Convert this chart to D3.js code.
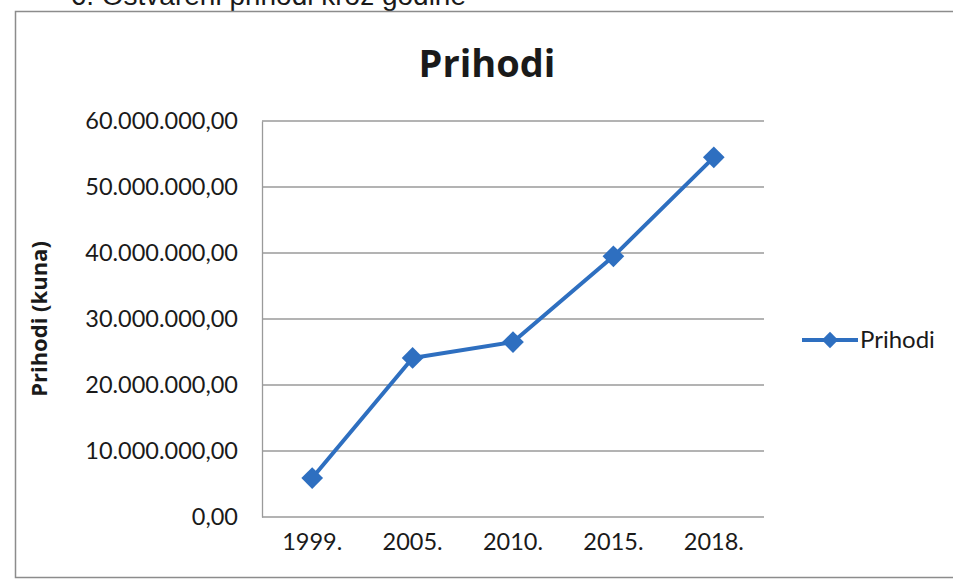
<!DOCTYPE html>
<html>
<head>
<meta charset="utf-8">
<script src="https://cdn.jsdelivr.net/npm/d3@7"></script>
<style>
	body { margin: 0; background: #fff; }
	svg { display: block; }
</style>
</head>
<body>
<script>
// data
const years = ["1999.", "2005.", "2010.", "2015.", "2018."];
const prihodi = [5900000, 24100000, 26500000, 39500000, 54500000];
const yTicks = [0, 10000000, 20000000, 30000000, 40000000, 50000000, 60000000];
const seriesName = "Prihodi";

const svgWidth = 953;
const svgHeight = 580;
const plot = { left: 262, right: 764, top: 121, bottom: 517 };
const blue = "#2e6fc0";
const labelFont = "Lato, sans-serif";
const titleFont = "'Open Sans', sans-serif";
const ink = "#1a1a1a";

const svg = d3.select("body")
	.append("svg")
	.attr("width", svgWidth)
	.attr("height", svgHeight);

// caption of the page, cut by the scan
svg.append("text")
	.attr("x", 466)
	.attr("y", 5)
	.attr("text-anchor", "end")
	.style("font-size", "28px")
	.style("font-family", "'Liberation Sans', sans-serif")
	.attr("fill", ink)
	.text("6. Ostvareni prihodi kroz godine");

// chart frame
svg.append("rect")
	.attr("x", 15.5)
	.attr("y", 11.5)
	.attr("width", 960)
	.attr("height", 566)
	.attr("fill", "none")
	.attr("stroke", "#8c8c8c")
	.attr("stroke-width", 1.5);

const x = d3.scaleBand()
	.domain(years)
	.range([plot.left, plot.right]);

const y = d3.scaleLinear()
	.domain([0, 60000000])
	.range([plot.bottom, plot.top]);

const fmt = (v) => d3.format(",.2f")(v).replace(/,/g, "#").replace(".", ",").replace(/#/g, ".");

// grid lines
svg.append("g")
	.selectAll("line")
	.data(yTicks)
	.join("line")
	.attr("x1", plot.left)
	.attr("x2", plot.right)
	.attr("y1", (d) => y(d))
	.attr("y2", (d) => y(d))
	.attr("stroke", "#9a9a9a")
	.attr("stroke-width", 1.3);

// y axis
const yAxis = svg.append("g")
	.attr("transform", `translate(${plot.left} 0)`)
	.call(d3.axisLeft(y).tickValues(yTicks).tickFormat(fmt).tickSize(0).tickPadding(24));
yAxis.select(".domain").attr("stroke", "#9a9a9a").attr("stroke-width", 1.3);
yAxis.selectAll("text")
	.style("font-size", "23.5px")
	.style("font-family", labelFont)
	.attr("fill", ink);

// x axis
const xAxis = svg.append("g")
	.attr("transform", `translate(0 ${plot.bottom})`)
	.call(d3.axisBottom(x).tickSize(0).tickPadding(16));
xAxis.select(".domain").remove();
xAxis.selectAll("text")
	.style("font-size", "23.5px")
	.style("font-family", labelFont)
	.attr("fill", ink);

// titles
svg.append("text")
	.attr("x", 487)
	.attr("y", 77)
	.attr("text-anchor", "middle")
	.style("font-size", "38px")
	.style("font-family", titleFont)
	.style("font-weight", "bold")
	.attr("fill", ink)
	.text("Prihodi");

svg.append("text")
	.attr("transform", `translate(47 ${(plot.top + plot.bottom) / 2}) rotate(-90)`)
	.attr("text-anchor", "middle")
	.style("font-size", "22px")
	.style("font-family", titleFont)
	.style("font-weight", "bold")
	.attr("fill", ink)
	.text("Prihodi (kuna)");

// line + markers
const points = years.map((yr, i) => ({ year: yr, value: prihodi[i] }));
const cx = (d) => x(d.year) + x.bandwidth() / 2;

svg.append("path")
	.datum(points)
	.attr("fill", "none")
	.attr("stroke", blue)
	.attr("stroke-width", 4)
	.attr("stroke-linejoin", "round")
	.attr("d", d3.line().x(cx).y((d) => y(d.value)));

const diamond = d3.symbol().type(d3.symbolDiamond2).size(300);
svg.append("g")
	.selectAll("path")
	.data(points)
	.join("path")
	.attr("transform", (d) => `translate(${cx(d)} ${y(d.value)})`)
	.attr("d", diamond)
	.attr("fill", blue);

// legend
const legend = svg.append("g").attr("transform", "translate(802 340)");
legend.append("line")
	.attr("x1", 0)
	.attr("x2", 56)
	.attr("stroke", blue)
	.attr("stroke-width", 4);
legend.append("path")
	.attr("transform", "translate(28 0)")
	.attr("d", d3.symbol().type(d3.symbolDiamond2).size(170))
	.attr("fill", blue);
legend.append("text")
	.attr("x", 58)
	.attr("y", 8)
	.style("font-size", "24px")
	.style("font-family", labelFont)
	.attr("fill", ink)
	.text(seriesName);
</script>
</body>
</html>
